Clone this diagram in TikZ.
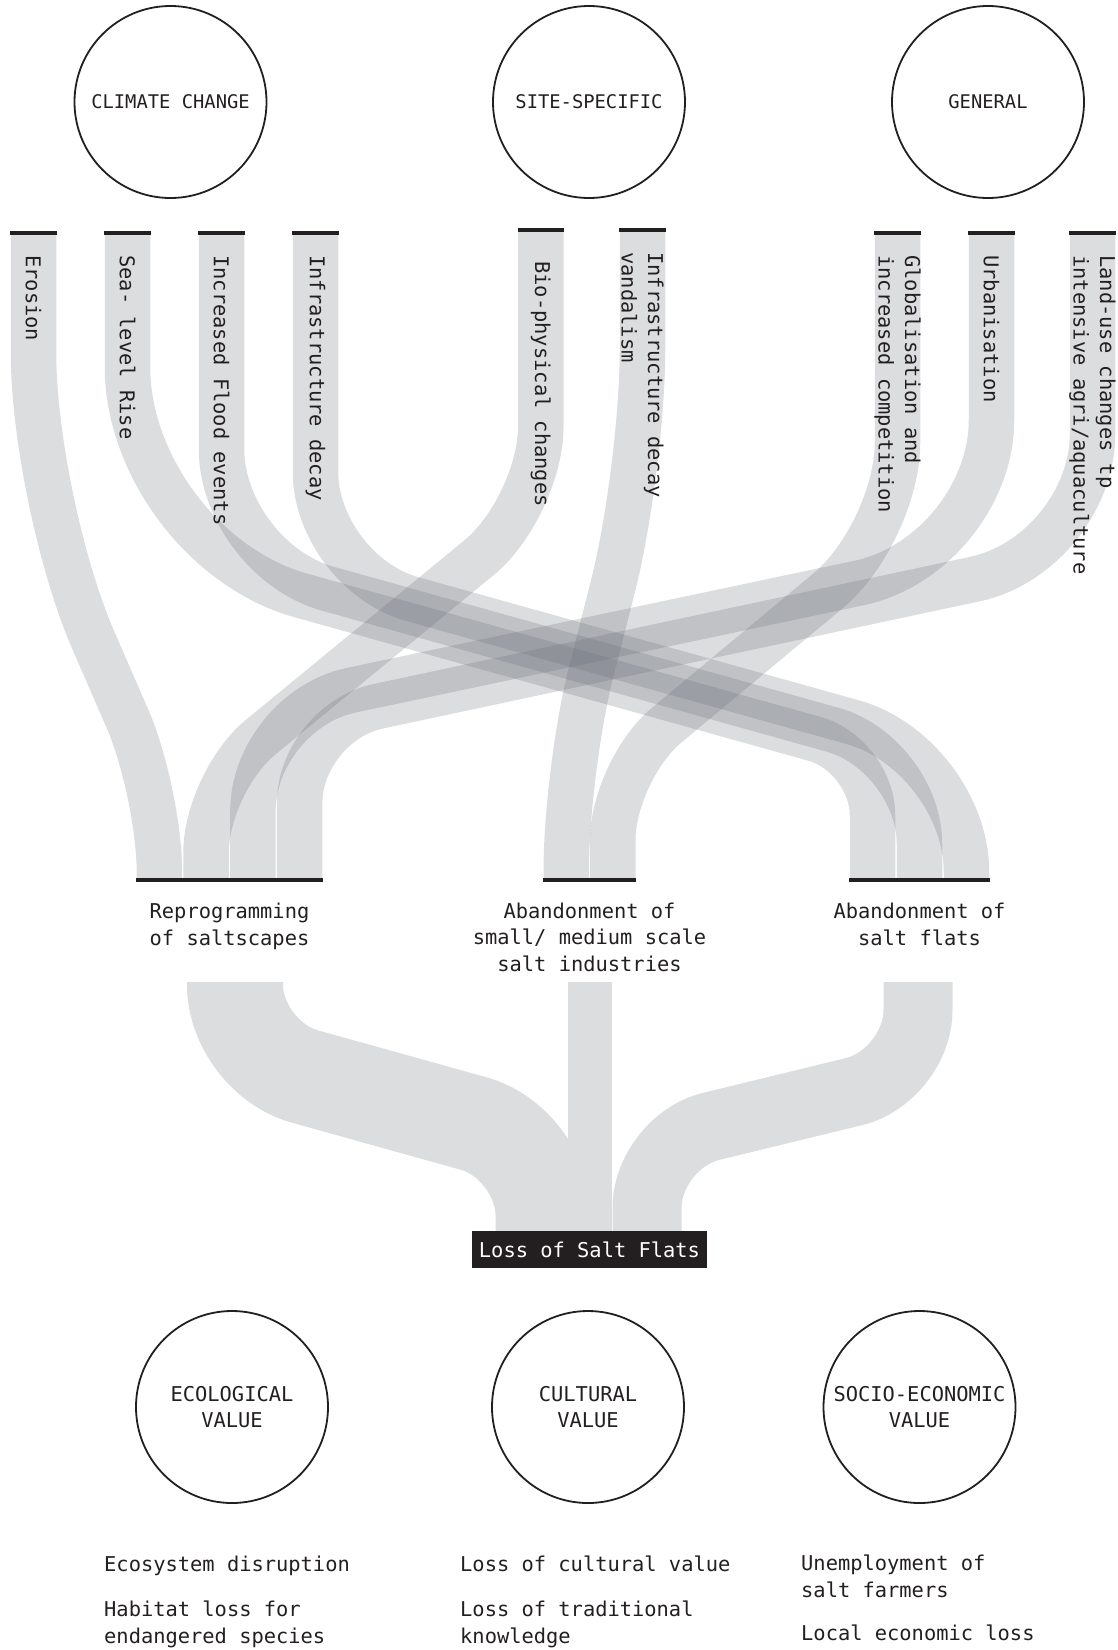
\documentclass[tikz,border=0pt]{standalone}
\usepackage{fontspec}
\newfontfamily\diagfont{DejaVu Sans Mono}
\usetikzlibrary{calc}
\definecolor{ink}{HTML}{231F20}
\definecolor{flowgrey}{RGB}{100,105,115}
\definecolor{stripgrey}{HTML}{DCDDDF}
\begin{document}
\begin{tikzpicture}[x=1pt,y=-1pt,font=\diagfont\fontsize{20.4}{26.5}\selectfont]
\tikzstyle{every node}+=[inner sep=0pt,text=ink]
\tikzstyle{flowstrip}=[draw=flowgrey,draw opacity=0.226,line width=45.5pt]
\tikzstyle{sinkstrip}=[draw=stripgrey]
\tikzstyle{barline}=[draw=ink,line width=4pt]
\tikzstyle{hub}=[circle,draw=ink,line width=1.8pt,minimum size=192pt,align=center]
\tikzstyle{cause}=[rotate=-90,anchor=west,align=left]
\tikzstyle{outcome}=[anchor=base,align=center]
\tikzstyle{effect}=[anchor=base west,align=left]
\useasboundingbox (0,0) rectangle (1117,1650);
\node [hub,font=\diagfont\fontsize{18.8}{24}\selectfont] (climate) at (170.5,102) {CLIMATE CHANGE};
\node [hub,font=\diagfont\fontsize{18.8}{24}\selectfont] (site) at (589,102) {SITE-SPECIFIC};
\node [hub,font=\diagfont\fontsize{18.8}{24}\selectfont] (general) at (988,102) {GENERAL};
\coordinate (ero) at (33.5,233);
\coordinate (sea) at (127.5,233);
\coordinate (flood) at (221.5,233);
\coordinate (decay) at (315.5,233);
\coordinate (bio) at (540.75,230);
\coordinate (vandal) at (642.5,230);
\coordinate (glob) at (897.5,233);
\coordinate (urban) at (991.5,233);
\coordinate (landuse) at (1092.5,233);
\coordinate (rp1) at (159.4,880);
\coordinate (rp2) at (206.1,880);
\coordinate (rp3) at (252.9,880);
\coordinate (rp4) at (299.6,880);
\coordinate (sm1) at (566.25,880);
\coordinate (sm2) at (612.75,880);
\coordinate (sf1) at (872.5,880);
\coordinate (sf2) at (919.5,880);
\coordinate (sf3) at (966.5,880);
\draw [flowstrip] (ero) [rounded corners=150pt] -- (33.5,503) [rounded corners=80pt] -- (159.4,792) -- (rp1);
\draw [flowstrip] (sea) [rounded corners=180pt] -- (127.5,547) [rounded corners=60pt] -- (872.5,755) -- (sf1);
\draw [flowstrip] (flood) [rounded corners=110pt] -- (221.5,559) [rounded corners=90pt] -- (919.5,754) -- (sf2);
\draw [flowstrip] (decay) [rounded corners=100pt] -- (315.5,572) [rounded corners=118pt] -- (966.5,754) -- (sf3);
\draw [flowstrip] (bio) [rounded corners=80pt] -- (540.75,507) [rounded corners=70pt] -- (206.1,782) -- (rp2);
\draw [flowstrip] (vandal) [rounded corners=120pt] -- (642.5,470) [rounded corners=100pt] -- (566.25,770) -- (sm1);
\draw [flowstrip] (glob) [rounded corners=90pt] -- (897.5,533) [rounded corners=70pt] -- (612.75,770) -- (sm2);
\draw [flowstrip] (urban) [rounded corners=135pt] -- (991.5,555) [rounded corners=100pt] -- (252.9,711) -- (rp3);
\draw [flowstrip] (landuse) [rounded corners=120pt] -- (1092.5,554) [rounded corners=80pt] -- (299.6,723) -- (rp4);
\draw [barline] (10,233) -- (57,233);
\draw [barline] (104,233) -- (151,233);
\draw [barline] (198,233) -- (245,233);
\draw [barline] (292,233) -- (339,233);
\draw [barline] (517.5,230) -- (564,230);
\draw [barline] (619,230) -- (666,230);
\draw [barline] (874,233) -- (921,233);
\draw [barline] (968,233) -- (1015,233);
\draw [barline] (1069,233) -- (1116,233);
\draw [barline] (136,880) -- (323,880);
\draw [barline] (543,880) -- (636,880);
\draw [barline] (849,880) -- (990,880);
\node [cause] (eroT) at (33.5,255) {Erosion};
\node [cause] (seaT) at (127.5,255) {Sea- level Rise};
\node [cause] (floodT) at (221.5,255) {Increased Flood events};
\node [cause] (decayT) at (315.5,255) {Infrastructure decay};
\node [cause] (bioT) at (540.75,261) {Bio-physical changes};
\node [cause] (vandalT) at (642.5,252) {Infrastructure decay\\vandalism};
\node [cause] (globT) at (897.5,255) {Globalisation and\\increased competition};
\node [cause] (urbanT) at (991.5,255) {Urbanisation};
\node [cause] (landT) at (1092.5,255) {Land-use changes tp\\intensive agri/aquaculture};
\node [outcome] (rpT) at (229.5,945) {Reprogramming\\of saltscapes};
\node [outcome] (smT) at (589.5,971) {Abandonment of\\small/ medium scale\\salt industries};
\node [outcome] (sfT) at (919.5,945) {Abandonment of\\salt flats};
\node [fill=ink,text=white,minimum width=235pt,minimum height=37pt] (loss) at (589.5,1249.5) {Loss of Salt Flats};
\coordinate (rptop) at (235,982);
\coordinate (smtop) at (590,982);
\coordinate (sftop) at (918,982);
\draw [sinkstrip,line width=44pt] (smtop) -- (smtop |- loss.north);
\draw [sinkstrip,line width=96pt] (rptop) [rounded corners=72pt] -- (235,1057) -- (543.5,1143) -- ([xshift=-46pt]loss.north);
\draw [sinkstrip,line width=69pt] (sftop) [rounded corners=66pt] -- (918,1076) -- (647,1142) -- ([xshift=57.5pt]loss.north);
\node [hub] (ecol) at (232,1407) {ECOLOGICAL\\VALUE};
\node [hub] (cult) at (588,1407) {CULTURAL\\VALUE};
\node [hub] (soce) at (919.5,1407) {SOCIO-ECONOMIC\\VALUE};
\node [effect] (eco1) at (104,1571) {Ecosystem disruption};
\node [effect] (eco2) at (104,1643) {Habitat loss for\\endangered species};
\node [effect] (cul1) at (460,1571) {Loss of cultural value};
\node [effect] (cul2) at (460,1643) {Loss of traditional\\knowledge};
\node [effect] (soc1) at (801,1597) {Unemployment of\\salt farmers};
\node [effect] (soc2) at (801,1640) {Local economic loss};
\end{tikzpicture}
\end{document}
